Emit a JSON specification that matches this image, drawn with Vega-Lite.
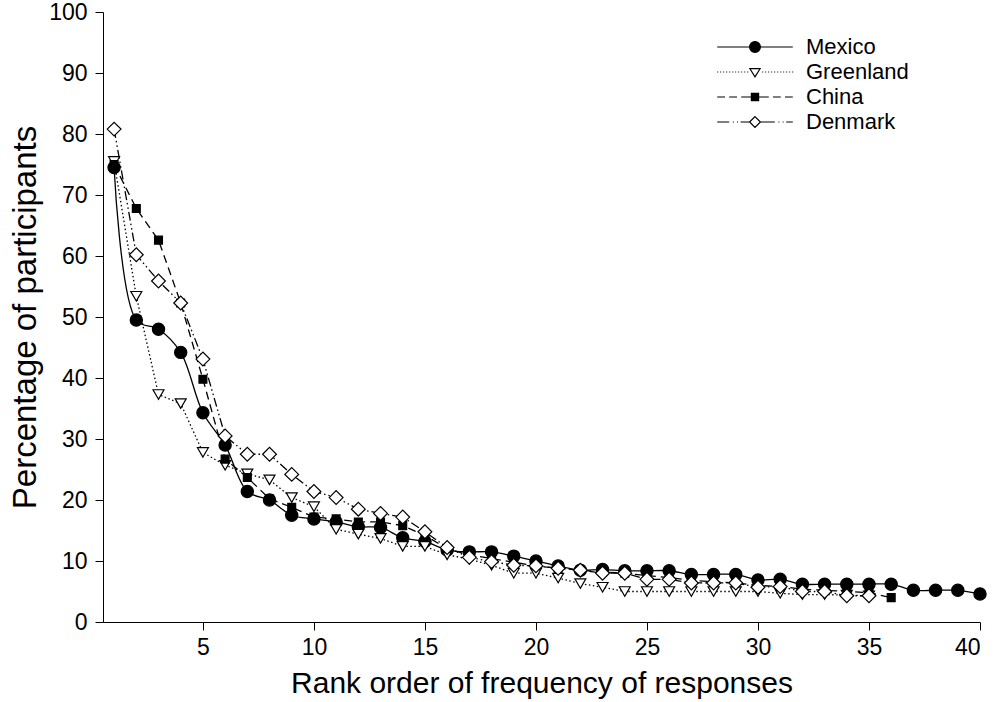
{
  "$schema": "https://vega.github.io/schema/vega-lite/v6.json",
  "autosize": "none",
  "width": 877,
  "height": 610,
  "padding": {"left": 103, "top": 12, "right": 16, "bottom": 80},
  "background": "white",
  "config": {
    "view": {"stroke": null},
    "font": "Liberation Sans",
    "axis": {
      "grid": false,
      "domainColor": "black",
      "tickColor": "black",
      "labelColor": "black",
      "titleColor": "black",
      "tickSize": 8,
      "labelFontSize": 23,
      "titleFontWeight": "normal",
      "labelFont": "Liberation Sans",
      "titleFont": "Liberation Sans"
    }
  },
  "data": {
    "values": [
      {"rank": 1, "country": "Mexico", "pct": 74.5},
      {"rank": 2, "country": "Mexico", "pct": 49.5},
      {"rank": 3, "country": "Mexico", "pct": 48.0},
      {"rank": 4, "country": "Mexico", "pct": 44.2},
      {"rank": 5, "country": "Mexico", "pct": 34.3},
      {"rank": 6, "country": "Mexico", "pct": 29.0},
      {"rank": 7, "country": "Mexico", "pct": 21.4},
      {"rank": 8, "country": "Mexico", "pct": 20.0},
      {"rank": 9, "country": "Mexico", "pct": 17.5},
      {"rank": 10, "country": "Mexico", "pct": 16.9},
      {"rank": 11, "country": "Mexico", "pct": 16.4},
      {"rank": 12, "country": "Mexico", "pct": 15.6},
      {"rank": 13, "country": "Mexico", "pct": 15.5},
      {"rank": 14, "country": "Mexico", "pct": 13.8},
      {"rank": 15, "country": "Mexico", "pct": 13.2},
      {"rank": 16, "country": "Mexico", "pct": 11.8},
      {"rank": 17, "country": "Mexico", "pct": 11.5},
      {"rank": 18, "country": "Mexico", "pct": 11.5},
      {"rank": 19, "country": "Mexico", "pct": 10.8},
      {"rank": 20, "country": "Mexico", "pct": 10.0},
      {"rank": 21, "country": "Mexico", "pct": 9.2},
      {"rank": 22, "country": "Mexico", "pct": 8.5},
      {"rank": 23, "country": "Mexico", "pct": 8.6},
      {"rank": 24, "country": "Mexico", "pct": 8.4},
      {"rank": 25, "country": "Mexico", "pct": 8.4},
      {"rank": 26, "country": "Mexico", "pct": 8.4},
      {"rank": 27, "country": "Mexico", "pct": 7.8},
      {"rank": 28, "country": "Mexico", "pct": 7.8},
      {"rank": 29, "country": "Mexico", "pct": 7.8},
      {"rank": 30, "country": "Mexico", "pct": 6.9},
      {"rank": 31, "country": "Mexico", "pct": 7.0},
      {"rank": 32, "country": "Mexico", "pct": 6.2},
      {"rank": 33, "country": "Mexico", "pct": 6.2},
      {"rank": 34, "country": "Mexico", "pct": 6.2},
      {"rank": 35, "country": "Mexico", "pct": 6.2},
      {"rank": 36, "country": "Mexico", "pct": 6.2},
      {"rank": 37, "country": "Mexico", "pct": 5.2},
      {"rank": 38, "country": "Mexico", "pct": 5.2},
      {"rank": 39, "country": "Mexico", "pct": 5.2},
      {"rank": 40, "country": "Mexico", "pct": 4.6},
      {"rank": 1, "country": "Greenland", "pct": 75.5},
      {"rank": 2, "country": "Greenland", "pct": 53.4},
      {"rank": 3, "country": "Greenland", "pct": 37.3},
      {"rank": 4, "country": "Greenland", "pct": 35.8},
      {"rank": 5, "country": "Greenland", "pct": 27.8},
      {"rank": 6, "country": "Greenland", "pct": 25.7},
      {"rank": 7, "country": "Greenland", "pct": 24.3},
      {"rank": 8, "country": "Greenland", "pct": 23.3},
      {"rank": 9, "country": "Greenland", "pct": 20.4},
      {"rank": 10, "country": "Greenland", "pct": 18.9},
      {"rank": 11, "country": "Greenland", "pct": 15.2},
      {"rank": 12, "country": "Greenland", "pct": 14.4},
      {"rank": 13, "country": "Greenland", "pct": 13.7},
      {"rank": 14, "country": "Greenland", "pct": 12.4},
      {"rank": 15, "country": "Greenland", "pct": 12.4},
      {"rank": 16, "country": "Greenland", "pct": 11.0},
      {"rank": 17, "country": "Greenland", "pct": 10.3},
      {"rank": 18, "country": "Greenland", "pct": 9.3},
      {"rank": 19, "country": "Greenland", "pct": 8.0},
      {"rank": 20, "country": "Greenland", "pct": 8.0},
      {"rank": 21, "country": "Greenland", "pct": 7.2},
      {"rank": 22, "country": "Greenland", "pct": 6.3},
      {"rank": 23, "country": "Greenland", "pct": 5.7},
      {"rank": 24, "country": "Greenland", "pct": 5.0},
      {"rank": 25, "country": "Greenland", "pct": 5.0},
      {"rank": 26, "country": "Greenland", "pct": 5.0},
      {"rank": 27, "country": "Greenland", "pct": 5.0},
      {"rank": 28, "country": "Greenland", "pct": 5.0},
      {"rank": 29, "country": "Greenland", "pct": 5.0},
      {"rank": 30, "country": "Greenland", "pct": 5.0},
      {"rank": 31, "country": "Greenland", "pct": 4.7},
      {"rank": 32, "country": "Greenland", "pct": 4.5},
      {"rank": 33, "country": "Greenland", "pct": 4.5},
      {"rank": 34, "country": "Greenland", "pct": 4.4},
      {"rank": 35, "country": "Greenland", "pct": 4.3},
      {"rank": 1, "country": "China", "pct": 75.0},
      {"rank": 2, "country": "China", "pct": 67.8},
      {"rank": 3, "country": "China", "pct": 62.6},
      {"rank": 4, "country": "China", "pct": 52.3},
      {"rank": 5, "country": "China", "pct": 39.8},
      {"rank": 6, "country": "China", "pct": 26.7},
      {"rank": 7, "country": "China", "pct": 23.7},
      {"rank": 8, "country": "China", "pct": 20.2},
      {"rank": 9, "country": "China", "pct": 18.8},
      {"rank": 10, "country": "China", "pct": 17.2},
      {"rank": 11, "country": "China", "pct": 16.9},
      {"rank": 12, "country": "China", "pct": 16.4},
      {"rank": 13, "country": "China", "pct": 16.4},
      {"rank": 14, "country": "China", "pct": 15.8},
      {"rank": 15, "country": "China", "pct": 14.2},
      {"rank": 16, "country": "China", "pct": 12.0},
      {"rank": 17, "country": "China", "pct": 11.0},
      {"rank": 18, "country": "China", "pct": 10.4},
      {"rank": 19, "country": "China", "pct": 9.8},
      {"rank": 20, "country": "China", "pct": 9.2},
      {"rank": 21, "country": "China", "pct": 8.8},
      {"rank": 22, "country": "China", "pct": 8.5},
      {"rank": 23, "country": "China", "pct": 8.2},
      {"rank": 24, "country": "China", "pct": 8.0},
      {"rank": 25, "country": "China", "pct": 7.6},
      {"rank": 26, "country": "China", "pct": 7.3},
      {"rank": 27, "country": "China", "pct": 6.8},
      {"rank": 28, "country": "China", "pct": 6.6},
      {"rank": 29, "country": "China", "pct": 6.4},
      {"rank": 30, "country": "China", "pct": 6.0},
      {"rank": 31, "country": "China", "pct": 5.8},
      {"rank": 32, "country": "China", "pct": 5.4},
      {"rank": 33, "country": "China", "pct": 5.2},
      {"rank": 34, "country": "China", "pct": 5.0},
      {"rank": 35, "country": "China", "pct": 4.8},
      {"rank": 36, "country": "China", "pct": 4.0},
      {"rank": 1, "country": "Denmark", "pct": 80.8},
      {"rank": 2, "country": "Denmark", "pct": 60.2},
      {"rank": 3, "country": "Denmark", "pct": 55.9},
      {"rank": 4, "country": "Denmark", "pct": 52.3},
      {"rank": 5, "country": "Denmark", "pct": 43.1},
      {"rank": 6, "country": "Denmark", "pct": 30.5},
      {"rank": 7, "country": "Denmark", "pct": 27.5},
      {"rank": 8, "country": "Denmark", "pct": 27.5},
      {"rank": 9, "country": "Denmark", "pct": 24.2},
      {"rank": 10, "country": "Denmark", "pct": 21.4},
      {"rank": 11, "country": "Denmark", "pct": 20.4},
      {"rank": 12, "country": "Denmark", "pct": 18.5},
      {"rank": 13, "country": "Denmark", "pct": 17.8},
      {"rank": 14, "country": "Denmark", "pct": 17.2},
      {"rank": 15, "country": "Denmark", "pct": 14.8},
      {"rank": 16, "country": "Denmark", "pct": 12.2},
      {"rank": 17, "country": "Denmark", "pct": 10.6},
      {"rank": 18, "country": "Denmark", "pct": 9.9},
      {"rank": 19, "country": "Denmark", "pct": 9.3},
      {"rank": 20, "country": "Denmark", "pct": 9.2},
      {"rank": 21, "country": "Denmark", "pct": 8.8},
      {"rank": 22, "country": "Denmark", "pct": 8.5},
      {"rank": 23, "country": "Denmark", "pct": 8.0},
      {"rank": 24, "country": "Denmark", "pct": 8.0},
      {"rank": 25, "country": "Denmark", "pct": 7.0},
      {"rank": 26, "country": "Denmark", "pct": 7.0},
      {"rank": 27, "country": "Denmark", "pct": 6.4},
      {"rank": 28, "country": "Denmark", "pct": 6.4},
      {"rank": 29, "country": "Denmark", "pct": 6.4},
      {"rank": 30, "country": "Denmark", "pct": 5.7},
      {"rank": 31, "country": "Denmark", "pct": 5.8},
      {"rank": 32, "country": "Denmark", "pct": 5.0},
      {"rank": 33, "country": "Denmark", "pct": 5.0},
      {"rank": 34, "country": "Denmark", "pct": 4.3},
      {"rank": 35, "country": "Denmark", "pct": 4.3}
    ]
  },
  "encoding": {
    "x": {
      "field": "rank",
      "type": "quantitative",
      "scale": {"domain": [0.5, 40], "nice": false, "zero": false},
      "axis": {"values": [5, 10, 15, 20, 25, 30, 35, 40], "title": "Rank order of frequency of responses", "titleFontSize": 30, "titlePadding": 9, "labelPadding": 6}
    },
    "y": {
      "field": "pct",
      "type": "quantitative",
      "scale": {"domain": [0, 100], "nice": false},
      "axis": {"values": [0, 10, 20, 30, 40, 50, 60, 70, 80, 90, 100], "title": "Percentage of participants", "titleFontSize": 33, "titlePadding": 6, "labelPadding": 8}
    }
  },
  "layer": [
    {
      "transform": [{"filter": "datum.country === 'Mexico'"}],
      "mark": {"type": "line", "interpolate": "catmull-rom", "color": "black", "strokeWidth": 1.3},
      "encoding": {}
    },
    {
      "transform": [{"filter": "datum.country !== 'Mexico'"}],
      "mark": {"type": "line", "color": "black", "strokeWidth": 1.3},
      "encoding": {
        "detail": {"field": "country"},
        "strokeDash": {
          "field": "country",
          "type": "nominal",
          "scale": {"domain": ["Greenland", "China", "Denmark"], "range": [[1.5, 2.5], [8, 5], [9, 3, 1.5, 3, 1.5, 3]]},
          "legend": null
        }
      }
    },
    {
      "mark": {"type": "point", "filled": true, "stroke": "black", "strokeWidth": 1.2},
      "encoding": {
        "opacity": {
          "field": "country",
          "type": "nominal",
          "scale": {"domain": ["Mexico", "Greenland", "China", "Denmark"], "range": [1, 1, 1, 1]},
          "legend": {
            "title": null,
            "orient": "none",
            "legendX": 597,
            "legendY": 24,
            "padding": 0,
            "symbolSize": 144,
            "symbolOffset": 44,
            "labelOffset": 40,
            "labelFontSize": 22,
            "labelColor": "black",
            "labelFont": "Liberation Sans",
            "rowPadding": 3,
            "symbolStrokeWidth": 1.2,
            "encoding": {
              "symbols": {
                "shape": {"value": {"expr": "datum.value === 'Mexico' ? 'M-6.3,0H6.3M-0.9,0A0.9,0.9,0,1,0,0.9,0A0.9,0.9,0,1,0,-0.9,0Z' : datum.value === 'Greenland' ? 'M-6.3,0h0.17M-5.8,0h0.17M-5.3,0h0.17M-4.8,0h0.17M-4.3,0h0.17M-3.8,0h0.17M-3.3,0h0.17M-2.8,0h0.17M-2.3,0h0.17M-1.8,0h0.17M-1.3,0h0.17M1.2,0h0.17M1.7,0h0.17M2.2,0h0.17M2.7,0h0.17M3.2,0h0.17M3.7,0h0.17M4.2,0h0.17M4.7,0h0.17M5.2,0h0.17M5.7,0h0.17M6.2,0h0.17M-0.85,-0.55L0.85,-0.55L0,0.8Z' : datum.value === 'China' ? 'M-6.3,0H-5M-4.3,0H-3M-2.3,0H-0.6M0.6,0H2.3M3,0H4.3M5,0H6.3M-0.6,-0.6H0.6V0.6H-0.6Z' : 'M-6.3,0H-4.3M-3.7,0h0.17M-3.0,0h0.17M-2.4,0H-0.9M0.9,0H3.3M3.9,0h0.17M4.6,0h0.17M5.2,0H6.3M-0.9,0L0,-0.9L0.9,0L0,0.9Z'"}},
                "fill": {"value": {"expr": "datum.value === 'Mexico' || datum.value === 'China' ? 'black' : 'white'"}},
                "stroke": {"value": "black"},
                "strokeDash": {"value": []},
                "opacity": {"value": 1}
              }
            }
          }
        },
        "shape": {
          "condition": [
            {"test": "datum.country === 'Mexico'", "value": "circle"},
            {"test": "datum.country === 'Greenland'", "value": "triangle-down"},
            {"test": "datum.country === 'China'", "value": "square"}
          ],
          "value": "diamond"
        },
        "fill": {
          "condition": {"test": "datum.country === 'Mexico' || datum.country === 'China'", "value": "black"},
          "value": "white"
        },
        "size": {
          "condition": [
            {"test": "datum.country === 'China'", "value": 62},
            {"test": "datum.country === 'Greenland'", "value": 120},
            {"test": "datum.country === 'Denmark'", "value": 190}
          ],
          "value": 150
        }
      }
    }
  ]
}
